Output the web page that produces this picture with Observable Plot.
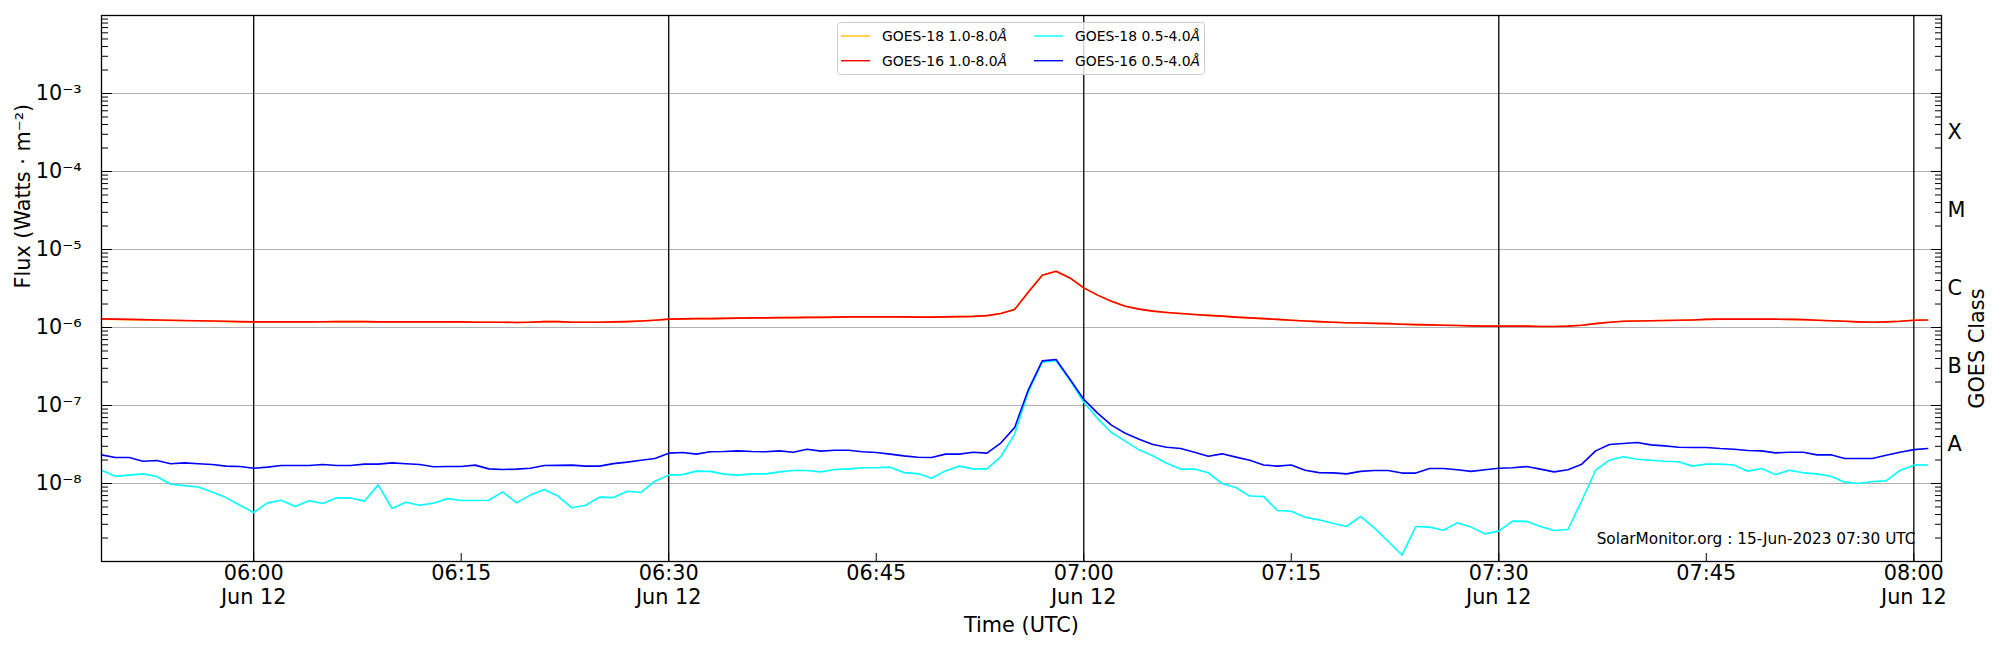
<!DOCTYPE html>
<html>
<head>
<meta charset="utf-8">
<script src="https://cdn.jsdelivr.net/npm/d3@7"></script>
<script src="https://cdn.jsdelivr.net/npm/@observablehq/plot@0.6"></script>
<style>
  body { margin: 0; background: #fff; }
  #wrap { position: relative; width: 2000px; height: 650px; font-family: "DejaVu Sans", sans-serif; }
  #legend { position: absolute; left: 837px; top: 22px; }
</style>
</head>
<body>
<div id="wrap"></div>
<script>
// ---------- data (1-minute cadence starting 2023-06-12 05:49 UTC) ----------
const startTime = "2023-06-12T05:49:00Z";
const endTime = "2023-06-12T08:02:00Z";

// GOES-16 1.0-8.0 Å, in units of 1e-6 W/m^2
const goes16Long = [
  1.29,1.28,1.27,1.26,1.25,1.24,1.23,1.22,1.21,1.20,1.19,
  1.18,1.18,1.18,1.18,1.18,1.185,1.19,1.19,1.19,1.18,
  1.18,1.18,1.18,1.18,1.18,1.18,1.17,1.17,1.17,1.16,
  1.17,1.19,1.19,1.17,1.17,1.17,1.18,1.19,1.21,1.24,
  1.28,1.29,1.30,1.30,1.31,1.32,1.33,1.33,1.34,1.34,
  1.35,1.35,1.36,1.37,1.37,1.37,1.37,1.37,1.36,1.36,
  1.37,1.38,1.39,1.42,1.51,1.70,2.86,4.68,5.27,4.32,
  3.22,2.60,2.17,1.87,1.72,1.62,1.56,1.51,1.47,1.43,
  1.40,1.36,1.33,1.30,1.27,1.24,1.21,1.19,1.17,1.15,
  1.14,1.13,1.12,1.10,1.09,1.08,1.07,1.06,1.05,1.04,
  1.04,1.04,1.04,1.03,1.03,1.04,1.07,1.12,1.17,1.20,
  1.21,1.22,1.23,1.24,1.25,1.27,1.28,1.28,1.28,1.28,
  1.28,1.27,1.26,1.24,1.22,1.20,1.18,1.17,1.18,1.20,
  1.24,1.25
];

// GOES-18 1.0-8.0 Å, in units of 1e-6 W/m^2 (lies under the GOES-16 curve)
const goes18Long = [
  1.28,1.27,1.26,1.25,1.24,1.23,1.22,1.21,1.20,1.19,1.18,
  1.18,1.18,1.18,1.18,1.18,1.18,1.19,1.19,1.19,1.18,
  1.18,1.18,1.18,1.18,1.18,1.18,1.17,1.17,1.17,1.16,
  1.17,1.19,1.19,1.17,1.17,1.17,1.18,1.19,1.21,1.24,
  1.28,1.29,1.30,1.30,1.31,1.32,1.33,1.33,1.34,1.34,
  1.35,1.35,1.36,1.37,1.37,1.37,1.37,1.37,1.36,1.36,
  1.37,1.38,1.39,1.42,1.51,1.70,2.86,4.68,5.27,4.32,
  3.22,2.60,2.17,1.87,1.72,1.62,1.56,1.51,1.47,1.43,
  1.40,1.36,1.33,1.30,1.27,1.24,1.21,1.19,1.17,1.15,
  1.14,1.13,1.12,1.10,1.09,1.08,1.07,1.06,1.05,1.04,
  1.04,1.04,1.04,1.03,1.03,1.04,1.07,1.12,1.17,1.20,
  1.21,1.22,1.23,1.24,1.25,1.27,1.28,1.28,1.28,1.28,
  1.28,1.27,1.26,1.24,1.22,1.20,1.18,1.17,1.18,1.20,
  1.24,1.25
];

// GOES-18 0.5-4.0 Å, in units of 1e-8 W/m^2
const goes18Short = [
  1.48,1.24,1.28,1.33,1.23,0.98,0.94,0.90,0.78,0.66,0.527,
  0.425,0.565,0.61,0.507,0.60,0.555,0.655,0.65,0.594,0.96,
  0.478,0.576,0.527,0.56,0.64,0.605,0.605,0.61,0.78,0.565,
  0.71,0.84,0.69,0.488,0.527,0.668,0.66,0.797,0.767,1.07,
  1.28,1.30,1.44,1.43,1.32,1.28,1.33,1.33,1.41,1.47,
  1.47,1.41,1.51,1.54,1.59,1.59,1.62,1.38,1.34,1.17,
  1.45,1.67,1.54,1.54,2.2,4.3,15.0,36.0,37.5,21.0,
  11.0,6.8,4.5,3.5,2.7,2.26,1.82,1.53,1.53,1.37,
  1.00,0.89,0.69,0.68,0.45,0.44,0.37,0.342,0.31,0.281,
  0.378,0.27,0.182,0.121,0.281,0.276,0.252,0.313,0.276,0.226,
  0.245,0.329,0.327,0.281,0.25,0.257,0.605,1.48,1.99,2.2,
  2.05,1.99,1.93,1.90,1.67,1.77,1.77,1.73,1.44,1.56,
  1.30,1.48,1.37,1.33,1.24,1.04,1.00,1.06,1.08,1.47,
  1.72,1.73
];

// GOES-16 0.5-4.0 Å, in units of 1e-8 W/m^2
const goes16Short = [
  2.33,2.15,2.15,1.93,1.97,1.79,1.84,1.79,1.75,1.67,1.65,
  1.57,1.62,1.70,1.70,1.70,1.75,1.70,1.70,1.77,1.77,
  1.84,1.79,1.75,1.64,1.65,1.65,1.72,1.54,1.51,1.53,
  1.57,1.70,1.71,1.72,1.67,1.67,1.80,1.88,1.99,2.09,
  2.45,2.50,2.38,2.55,2.57,2.62,2.57,2.55,2.62,2.52,
  2.75,2.60,2.67,2.67,2.55,2.50,2.38,2.26,2.17,2.15,
  2.38,2.38,2.52,2.45,3.30,5.20,16.0,37.3,38.9,21.7,
  12.0,8.0,5.6,4.4,3.7,3.16,2.92,2.81,2.52,2.24,
  2.40,2.18,1.99,1.73,1.67,1.73,1.48,1.38,1.37,1.33,
  1.43,1.47,1.47,1.36,1.36,1.56,1.56,1.50,1.43,1.50,
  1.57,1.59,1.65,1.53,1.41,1.50,1.77,2.62,3.16,3.26,
  3.36,3.13,3.04,2.92,2.90,2.90,2.81,2.75,2.65,2.62,
  2.47,2.52,2.52,2.33,2.33,2.09,2.09,2.09,2.30,2.52,
  2.72,2.81
];

const seriesNames = ["GOES-18 1.0-8.0Å", "GOES-16 1.0-8.0Å", "GOES-18 0.5-4.0Å", "GOES-16 0.5-4.0Å"];
const seriesColors = ["#ffc107", "#ff0000", "#00ffff", "#0000ff"];
const seriesUnits = [1e-6, 1e-6, 1e-8, 1e-8];
const seriesValues = [goes18Long, goes16Long, goes18Short, goes16Short];

// axes / ticks
const yTickExponents = [-8, -7, -6, -5, -4, -3];
const frameExponents = [-9, -8, -7, -6, -5, -4, -3, -2];
const minorMultipliers = [2, 3, 4, 5, 6, 7, 8, 9];
const classLabels = ["A", "B", "C", "M", "X"];
const classExponents = [-7.5, -6.5, -5.5, -4.5, -3.5];
const xTickLabels = ["06:00", "06:15", "06:30", "06:45", "07:00", "07:15", "07:30", "07:45", "08:00"];
const xDateLabel = "Jun 12";
const xDay = "2023-06-12";
const halfHourLabels = ["06:00", "06:30", "07:00", "07:30", "08:00"];
const xLabel = "Time (UTC)";
const yLabel = "Flux (Watts · m⁻²)";
const rightLabel = "GOES Class";
const footer = "SolarMonitor.org : 15-Jun-2023 07:30 UTC";

// ---------- build ----------
const t0 = new Date(startTime);
const rowsFor = (vals, unit) => vals.map((v, i) => ({time: new Date(+t0 + i * 60000), flux: v * unit}));
const seriesRows = seriesValues.map((vals, s) => rowsFor(vals, seriesUnits[s]));

const toDate = (hm) => new Date(`${xDay}T${hm}:00Z`);
const xTicks = xTickLabels.map(toDate);
const halfHours = halfHourLabels.map(toDate);
const decades = yTickExponents.map(e => 10 ** e);
const frameDecades = frameExponents.map(e => 10 ** e);
const minorTicks = frameExponents.slice(0, -1).flatMap(e => minorMultipliers.map(m => m * 10 ** e));
const classValues = classExponents.map(e => 10 ** e);

const supMap = {"-": "⁻", "0": "⁰", "1": "¹", "2": "²", "3": "³", "4": "⁴", "5": "⁵", "6": "⁶", "7": "⁷", "8": "⁸", "9": "⁹"};
const fmtPow = (v) => "10" + String(Math.round(Math.log10(v))).split("").map(c => supMap[c]).join("");

const FS = 20.8;

const chart = Plot.plot({
  width: 2000,
  height: 650,
  marginLeft: 101,
  marginRight: 59,
  marginTop: 15,
  marginBottom: 89,
  style: {fontFamily: "DejaVu Sans", background: "white", color: "black", overflow: "visible"},
  x: {type: "utc", domain: [new Date(startTime), new Date(endTime)]},
  y: {type: "log", domain: [1e-9, 1e-2]},
  marks: [
    Plot.ruleY(decades, {stroke: "#b0b0b0", strokeWidth: 1.1}),
    Plot.ruleX(halfHours, {stroke: "black", strokeWidth: 1.3}),
    ...seriesRows.map((rows, s) => Plot.line(rows, {x: "time", y: "flux", stroke: seriesColors[s], strokeWidth: 1.6})),
    Plot.frame({stroke: "black", strokeWidth: 1.3}),
    Plot.axisY({ticks: frameDecades, tickSize: -11, fill: "none", label: null}),
    Plot.axisY({ticks: minorTicks, tickSize: -7, fill: "none", label: null}),
    Plot.axisY({anchor: "right", ticks: frameDecades, tickSize: -11, fill: "none", label: null}),
    Plot.axisY({anchor: "right", ticks: minorTicks, tickSize: -7, fill: "none", label: null}),
    Plot.axisX({ticks: xTicks, tickSize: -8, fill: "none", label: null}),
    Plot.text(decades, {y: d => d, frameAnchor: "left", textAnchor: "end", dx: -20, text: fmtPow, fontSize: FS}),
    Plot.text(classValues, {y: d => d, frameAnchor: "right", textAnchor: "start", dx: 6, text: (d, i) => classLabels[i], fontSize: FS}),
    Plot.text(xTicks, {
      x: d => d, frameAnchor: "bottom", lineAnchor: "top", dy: 1, fontSize: FS, lineHeight: 1.17,
      text: (d, i) => halfHourLabels.includes(xTickLabels[i]) ? `${xTickLabels[i]}\n${xDateLabel}` : xTickLabels[i]
    }),
    Plot.text([xLabel], {frameAnchor: "bottom", dy: 70, fontSize: FS}),
    Plot.text([yLabel], {frameAnchor: "left", rotate: -90, dx: -78, fontSize: FS}),
    Plot.text([rightLabel], {frameAnchor: "right", rotate: -90, dx: 36, fontSize: FS}),
    Plot.text([footer], {frameAnchor: "bottom-right", textAnchor: "end", dx: -26, dy: -18, fontSize: 15.3})
  ]
});
document.getElementById("wrap").appendChild(chart);

// ---------- legend (2 columns, column-major like matplotlib) ----------
const lg = d3.select("#wrap").append("svg")
  .attr("id", "legend").attr("width", 369).attr("height", 54)
  .style("font-family", "DejaVu Sans").style("font-size", "13.9px");
lg.append("rect").attr("x", 0.5).attr("y", 0.5).attr("width", 367).attr("height", 52)
  .attr("rx", 3).attr("fill", "white").attr("fill-opacity", 0.8).attr("stroke", "#cccccc");
const colX = [4, 197];
const rowY = [14, 38.7];
seriesNames.forEach((name, i) => {
  const c = Math.floor(i / 2), r = i % 2;
  lg.append("line").attr("x1", colX[c]).attr("x2", colX[c] + 29)
    .attr("y1", rowY[r]).attr("y2", rowY[r]).attr("stroke", seriesColors[i]).attr("stroke-width", 1.4);
  const t = lg.append("text").attr("x", colX[c] + 41).attr("y", rowY[r]).attr("dy", "0.36em");
  t.append("tspan").text(name.slice(0, -1));
  t.append("tspan").attr("font-style", "italic").text(name.slice(-1));
});
</script>
</body>
</html>
